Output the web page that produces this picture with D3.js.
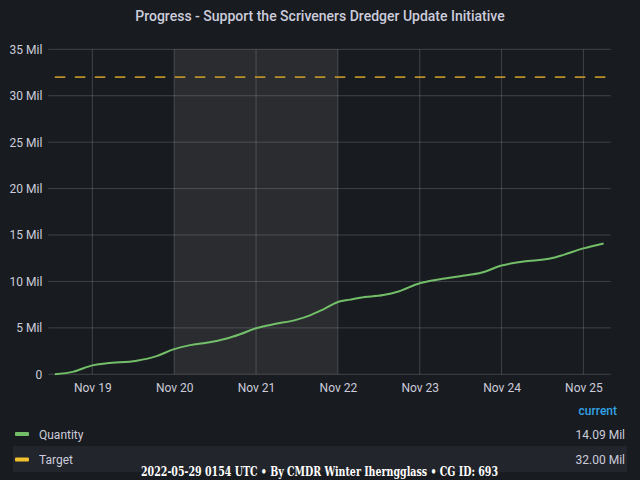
<!DOCTYPE html>
<html>
<head>
<meta charset="utf-8">
<script src="https://cdn.jsdelivr.net/npm/d3@7"></script>
<style>
  html, body { margin: 0; padding: 0; background: #181b1f; }
  svg { display: block; }
</style>
</head>
<body>
<svg id="chart" width="640" height="480"></svg>
<script>
// values (Mil = millions)
const times = [
  "2021-11-18T13:00Z", "2021-11-18T18:30Z", "2021-11-19T00:00Z", "2021-11-19T04:15Z",
  "2021-11-19T13:00Z", "2021-11-19T18:50Z", "2021-11-19T23:45Z", "2021-11-20T04:40Z",
  "2021-11-20T09:30Z", "2021-11-20T15:25Z", "2021-11-20T19:20Z", "2021-11-21T00:15Z",
  "2021-11-21T05:05Z", "2021-11-21T12:00Z", "2021-11-21T15:50Z", "2021-11-21T19:45Z",
  "2021-11-22T00:00Z", "2021-11-22T03:35Z", "2021-11-22T06:30Z", "2021-11-22T13:20Z",
  "2021-11-22T17:45Z", "2021-11-23T00:00Z", "2021-11-23T06:00Z", "2021-11-23T11:50Z",
  "2021-11-23T18:15Z", "2021-11-24T00:00Z", "2021-11-24T06:25Z", "2021-11-24T14:15Z",
  "2021-11-24T18:10Z", "2021-11-25T00:00Z", "2021-11-25T05:55Z"
];
const quantity = [
  0.00, 0.29, 0.96, 1.18,
  1.46, 1.96, 2.68, 3.14,
  3.39, 3.86, 4.32, 4.99,
  5.39, 5.89, 6.35, 7.00,
  7.78, 8.04, 8.25, 8.53,
  8.92, 9.81, 10.24, 10.56,
  10.96, 11.71, 12.14, 12.46,
  12.86, 13.56, 14.09
];
const target = 32;
const yTicks = [0, 5, 10, 15, 20, 25, 30, 35];
const xTicks = ["2021-11-19", "2021-11-20", "2021-11-21", "2021-11-22", "2021-11-23", "2021-11-24", "2021-11-25"];
const weekend = ["2021-11-20", "2021-11-22"];
const legendNames = ["Quantity", "Target"];
const legendValues = ["14.09 Mil", "32.00 Mil"];
const legendColors = ["#73bf69", "#f2c12e"];

const svg = d3.select("#chart");
const font = "Roboto, 'Noto Sans', sans-serif";
const textCol = "#ccccdc";

svg.append("rect").attr("width", 640).attr("height", 480).attr("fill", "#181b1f");

const x = d3.scaleUtc()
  .domain([new Date("2021-11-18T11:05Z"), new Date("2021-11-25T08:00Z")])
  .range([48.3, 610.7]);
const y = d3.scaleLinear().domain([0, 35]).range([374.3, 49.3]);

const data = times.map((t, i) => ({ t: new Date(t), v: quantity[i] }));

// title
svg.append("text")
  .attr("x", 320).attr("y", 21)
  .attr("text-anchor", "middle")
  .style("font", "500 14px " + font)
  .attr("fill", textCol)
  .text("Progress - Support the Scriveners Dredger Update Initiative");

// weekend band
svg.append("rect")
  .attr("x", x(new Date(weekend[0])))
  .attr("y", y(35))
  .attr("width", x(new Date(weekend[1])) - x(new Date(weekend[0])))
  .attr("height", y(0) - y(35))
  .attr("fill", "rgba(255,255,255,0.08)");

// grid
const gridCol = "rgba(204,204,220,0.22)";
svg.append("g").selectAll("line").data(yTicks).join("line")
  .attr("x1", x.range()[0]).attr("x2", x.range()[1])
  .attr("y1", d => y(d)).attr("y2", d => y(d))
  .attr("stroke", gridCol).attr("stroke-width", 1);
svg.append("g").selectAll("line").data(xTicks).join("line")
  .attr("x1", d => x(new Date(d))).attr("x2", d => x(new Date(d)))
  .attr("y1", y(35)).attr("y2", y(0))
  .attr("stroke", gridCol).attr("stroke-width", 1);

// axes (labels only)
const yAxis = svg.append("g")
  .attr("transform", `translate(${x.range()[0]},0)`)
  .call(d3.axisLeft(y).tickValues(yTicks).tickSize(0).tickPadding(6)
    .tickFormat(d => d === 0 ? "0" : d + " Mil"));
yAxis.select(".domain").remove();
yAxis.selectAll("text").attr("fill", textCol).style("font", "12px " + font);

const xAxis = svg.append("g")
  .attr("transform", `translate(0,${y(0)})`)
  .call(d3.axisBottom(x).tickValues(xTicks.map(d => new Date(d))).tickSize(0).tickPadding(9)
    .tickFormat(d3.utcFormat("Nov %-d")));
xAxis.select(".domain").remove();
xAxis.selectAll("text").attr("fill", textCol).style("font", "12px " + font);

// target line
svg.append("line")
  .attr("x1", x(data[0].t)).attr("x2", x.range()[1])
  .attr("y1", y(target)).attr("y2", y(target))
  .attr("stroke", "#b8902a").attr("stroke-width", 1.6)
  .attr("stroke-dasharray", "10.5,9.5");

// quantity line
svg.append("path")
  .datum(data)
  .attr("fill", "none")
  .attr("stroke", legendColors[0])
  .attr("stroke-width", 2)
  .attr("d", d3.line().x(d => x(d.t)).y(d => y(d.v)).curve(d3.curveMonotoneX));

// legend
svg.append("text")
  .attr("x", 617).attr("y", 415)
  .attr("text-anchor", "end")
  .style("font", "500 12px " + font)
  .attr("fill", "#33a2e5")
  .text("current");

svg.append("rect")
  .attr("x", 13).attr("y", 446).attr("width", 614).attr("height", 26)
  .attr("fill", "#22252b");

const rows = svg.append("g").selectAll("g").data(legendNames).join("g")
  .attr("transform", (d, i) => `translate(0,${434 + i * 25.5})`);
rows.append("rect")
  .attr("x", 15).attr("y", -2).attr("width", 14).attr("height", 4).attr("rx", 1)
  .attr("fill", (d, i) => legendColors[i]);
rows.append("text")
  .attr("x", 39).attr("y", 4.5)
  .style("font", "12px " + font).attr("fill", textCol)
  .text(d => d);
rows.append("text")
  .attr("x", 625).attr("y", 4.5)
  .attr("text-anchor", "end")
  .style("font", "12px " + font).attr("fill", textCol)
  .text((d, i) => legendValues[i]);

// footer
svg.append("text")
  .attr("x", 141).attr("y", 476)
  .attr("textLength", 357).attr("lengthAdjust", "spacingAndGlyphs")
  .style("font-family", "'DejaVu Serif', serif")
  .style("font-weight", "bold")
  .style("font-stretch", "condensed")
  .style("font-size", "12px")
  .attr("fill", "#ffffff")
  .text("2022-05-29 0154 UTC \u2022 By CMDR Winter Iherngglass \u2022 CG ID: 693");
</script>
</body>
</html>
